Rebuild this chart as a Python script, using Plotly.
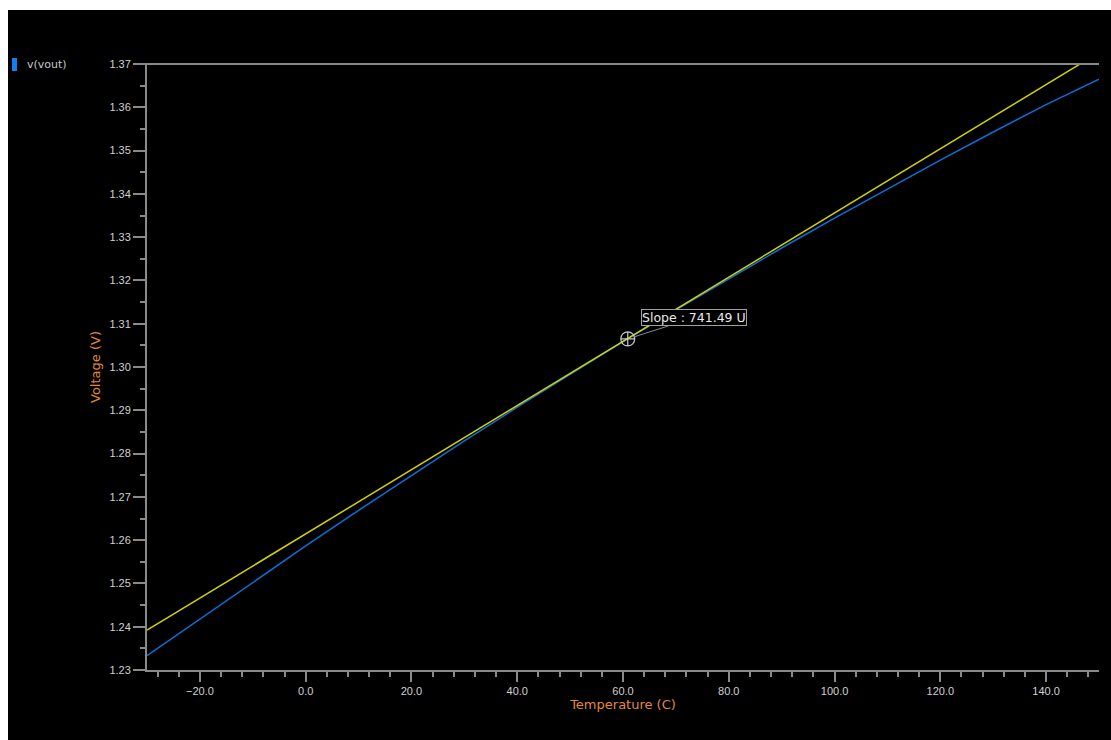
import plotly.graph_objects as go

# ---- data ----
temperature = [-30, -20, -10, 0, 10, 20, 30, 40, 50, 60, 70, 80, 90, 100, 110, 120, 130, 140, 150]
vout = [1.2333, 1.24175, 1.25027, 1.25865, 1.26688, 1.27497, 1.28291, 1.29071, 1.29836, 1.30586,
        1.31321, 1.32042, 1.32749, 1.33441, 1.34118, 1.34781, 1.35429, 1.36062, 1.3665]

tangent_t = [-30, 150]
tangent_v = [1.2392, 1.37266]

marker_t = [60.9]
marker_v = [1.3065]
slope_label = "Slope : 741.49 U"

x_range = [-30, 150]
y_range = [1.23, 1.37]

W, H = 1111, 740
L, R, T, B = 147, 12, 64, 70
pw, ph = W - L - R, H - T - B

def px_x(p):
    return (p - L) / pw

def px_y(p):
    return (H - B - p) / ph

axis_grey = "#8a8a8a"
tick_font = dict(family="Liberation Sans", size=11, color="#d0d0d0")
title_color = "#e0893c"

fig = go.Figure()
fig.add_trace(go.Scatter(x=temperature, y=vout, mode="lines",
                         line=dict(color="#0a6fd8", width=1.5), showlegend=False,
                         hoverinfo="skip"))
fig.add_trace(go.Scatter(x=tangent_t, y=tangent_v, mode="lines",
                         line=dict(color="#d2d200", width=1.5), showlegend=False,
                         hoverinfo="skip"))
fig.add_trace(go.Scatter(x=marker_t, y=marker_v, mode="markers",
                         marker=dict(symbol="circle-cross-open", size=14,
                                     color="#c8c8c8", line=dict(width=1.2)),
                         showlegend=False, hoverinfo="skip", cliponaxis=False))

# black panel
fig.add_shape(type="rect", xref="paper", yref="paper",
              x0=px_x(8), x1=px_x(W + 5), y0=px_y(H + 5), y1=px_y(10),
              fillcolor="black", line=dict(width=0), layer="below")
# top boundary line
fig.add_shape(type="line", xref="paper", yref="paper",
              x0=px_x(135), x1=1.0, y0=1.0, y1=1.0,
              line=dict(color=axis_grey, width=2))

# legend swatch + label
fig.add_shape(type="rect", xref="paper", yref="paper",
              x0=px_x(12), x1=px_x(17), y0=px_y(71), y1=px_y(58),
              fillcolor="#1080f0", line=dict(width=0))
fig.add_annotation(xref="paper", yref="paper", x=px_x(25), y=px_y(64),
                   text="v(vout)", showarrow=False, xanchor="left", yanchor="middle",
                   font=dict(family="DejaVu Sans", size=11, color="#c8c8c8"))

# slope callout
fig.add_annotation(x=marker_t[0], y=marker_v[0], text=slope_label,
                   showarrow=True, arrowhead=0, arrowwidth=1, arrowcolor="#8a8a8a",
                   ax=66, ay=-21, standoff=6,
                   font=dict(family="DejaVu Sans", size=12.5, color="#e8e8e8"),
                   bgcolor="black", bordercolor="#a0a0a0", borderwidth=1, borderpad=0)

fig.update_layout(
    width=W, height=H,
    margin=dict(l=L, r=R, t=T, b=B),
    paper_bgcolor="white", plot_bgcolor="black",
    showlegend=False,
    xaxis=dict(range=x_range, tick0=0, dtick=20, tickformat=".1f",
               showgrid=False, zeroline=False,
               showline=True, linecolor=axis_grey, linewidth=2,
               ticks="outside", ticklen=10, tickwidth=2, tickcolor=axis_grey,
               tickfont=tick_font,
               minor=dict(dtick=4, tick0=0, ticks="outside", ticklen=5,
                          tickwidth=1.5, tickcolor=axis_grey, showgrid=False),
               title=dict(text="Temperature (C)", standoff=0,
                          font=dict(family="DejaVu Sans", size=13, color=title_color))),
    yaxis=dict(range=y_range, tick0=1.23, dtick=0.01, tickformat=".2f",
               showgrid=False, zeroline=False,
               showline=True, linecolor=axis_grey, linewidth=2,
               ticks="outside", ticklen=12, tickwidth=2, tickcolor=axis_grey,
               tickfont=tick_font,
               minor=dict(dtick=0.005, tick0=1.23, ticks="outside", ticklen=5,
                          tickwidth=1.5, tickcolor=axis_grey, showgrid=False),
               title=dict(text="Voltage (V)", standoff=6,
                          font=dict(family="DejaVu Sans", size=13, color=title_color))),
)

fig.write_html("out.html")
